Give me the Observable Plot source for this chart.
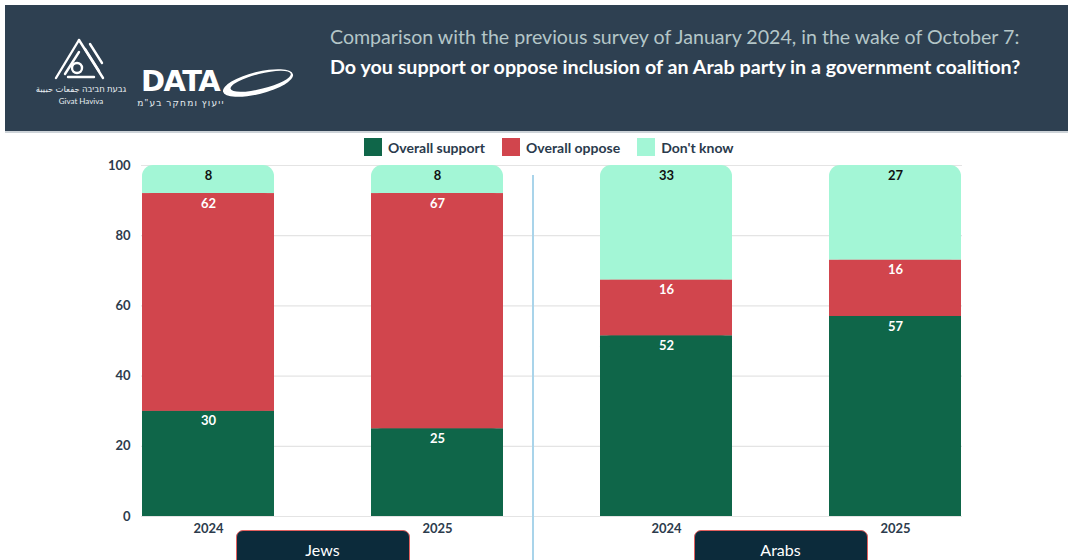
<!DOCTYPE html>
<html><head><meta charset="utf-8">
<script src="https://cdn.jsdelivr.net/npm/d3@7"></script>
<script src="https://cdn.jsdelivr.net/npm/@observablehq/plot@0.6"></script>
<style>
body{margin:0;width:1068px;height:560px;overflow:hidden;background:#fff;font-family:Lato,sans-serif;position:relative}
#header{position:absolute;left:5px;top:5px;width:1063px;height:126px;background:#2e4051;border-bottom:2px solid #cdd3d8}
#t1{position:absolute;left:330px;top:25px;font-size:19.6px;color:#b4c6c8;white-space:nowrap;font-family:Lato,sans-serif}
#t2{position:absolute;left:330px;top:55px;font-size:19.7px;font-weight:bold;color:#fff;white-space:nowrap;font-family:Lato,sans-serif}
#logos{position:absolute;left:0;top:0}
#legend{position:absolute;top:138px;left:364px;display:flex;align-items:center;font-weight:bold;font-size:14px;color:#2a3a4c}
#legend .sw{width:18px;height:18px;margin-right:6px}
#legend .it{display:flex;align-items:center;margin-right:17px}
#chart{position:absolute;left:0;top:0}
.gbox{position:absolute;top:530px;width:172px;height:40px;background:#0c2b3b;border:1.5px solid #e4605e;border-radius:7px;color:#fff;font-size:16px;text-align:center;line-height:38px;font-family:Lato,sans-serif}
#divider{position:absolute;top:175px;bottom:0;width:1.5px;background:#a9d4ea}
</style></head>
<body>
<div id="chart"></div>
<div id="header">
</div>
<svg id="logos" width="320" height="131">
  <g stroke="#fff" fill="none" stroke-width="2.4" stroke-linecap="round">
    <path d="M79,40 L56,78"/>
    <path d="M79,40 L103,78"/>
    <path d="M85,49 L99,71"/>
    <path d="M90,44 L102,63"/>
    <path d="M65,74 L79,52"/>
    <circle cx="77" cy="68" r="5"/>
    <path d="M68,77 L94,77"/>
  </g>
  <text x="81" y="92" text-anchor="middle" fill="#e8eef2" font-size="8.5" font-family="Noto Sans, DejaVu Sans">גבעת חביבה  جفعات حبيبة</text>
  <text x="81" y="104" text-anchor="middle" fill="#e8eef2" font-size="8" font-family="Lato">Givat Haviva</text>
  <text x="141" y="91" fill="#fff" font-size="29" font-weight="900" font-family="DejaVu Sans" letter-spacing="-1.5">DATA</text>
  <text x="181" y="106" text-anchor="middle" fill="#e8eef2" font-size="9" letter-spacing="1.2" font-family="Noto Sans, DejaVu Sans">ייעוץ ומחקר בע"מ</text>
  <g transform="translate(258,83) rotate(-14)">
    <ellipse rx="36" ry="11" fill="#fff"/>
    <ellipse cx="3" cy="-1" rx="31" ry="7.5" fill="#2e4051"/>
  </g>
</svg>
<div id="t1">Comparison with the previous survey of January 2024, in the wake of October 7:</div>
<div id="t2">Do you support or oppose inclusion of an Arab party in a government coalition?</div>
<div id="legend"></div>
<script>
const groups = ["Jews", "Jews", "Arabs", "Arabs"];
const years = ["2024", "2025", "2024", "2025"];
const series = ["Overall support", "Overall oppose", "Don't know"];
const support = [30, 25, 52, 57];
const oppose = [62, 67, 16, 16];
const dontKnow = [8, 8, 33, 27];
const yTicks = [0, 20, 40, 60, 80, 100];
const colors = ["#0f6649", "#d1454d", "#a3f6d6"];
const groupNames = ["Jews", "Arabs"];

const keys = groups.map((g, i) => g + " " + years[i]);
const yearOf = Object.fromEntries(keys.map((k, i) => [k, years[i]]));
const seriesValues = [support, oppose, dontKnow];
const rows = [];
keys.forEach((k, i) => series.forEach((s, j) => rows.push({key: k, series: s, value: seriesValues[j][i]})));

const stackOpts = {x: "key", y: "value", z: "series", order: series, offset: "normalize"};

const chart = Plot.plot({
  width: 1068, height: 560,
  marginTop: 165, marginBottom: 44, marginLeft: 141, marginRight: 106,
  style: {fontFamily: "Lato, sans-serif", background: "transparent"},
  x: {domain: keys, paddingInner: 0.425, paddingOuter: 0, label: null},
  y: {domain: [0, 1], label: null},
  color: {domain: series, range: colors},
  marks: [
    Plot.gridY(yTicks.map(d => d / 100), {stroke: "#e4e4e4", strokeOpacity: 1, strokeWidth: 1.2}),
    Plot.barY(rows, Plot.stackY({...stackOpts, fill: "series", ry1: 11})),
    Plot.barY(rows, Plot.stackY({...stackOpts, fill: "series", fillOpacity: d => d.series === "Don't know" ? 0 : 1})),
    Plot.text(rows, Plot.stackY2({...stackOpts, text: "value", dy: 10, fontSize: 13, fontWeight: "bold",
      fill: d => d.series === "Don't know" ? "#111111" : "#ffffff"})),
    Plot.axisY(yTicks.map(d => d / 100), {tickFormat: d => Math.round(d * 100), tickSize: 0, tickPadding: 11, fontSize: 13, fontWeight: "bold", fill: "#2d3b4c"}),
    Plot.axisX({tickFormat: k => yearOf[k], tickSize: 0, tickPadding: 7, fontSize: 13, fontWeight: "bold", fill: "#2d3b4c"})
  ]
});
document.getElementById("chart").appendChild(chart);

// legend
const leg = document.getElementById("legend");
series.forEach((s, i) => {
  const it = document.createElement("div"); it.className = "it";
  const sw = document.createElement("div"); sw.className = "sw"; sw.style.background = colors[i];
  const lb = document.createElement("span"); lb.textContent = s;
  it.appendChild(sw); it.appendChild(lb); leg.appendChild(it);
});

// group boxes & divider from the x scale
const xs = chart.scale("x");
const bw = xs.bandwidth;
groupNames.forEach(g => {
  const ks = keys.filter((k, i) => groups[i] === g);
  const c = (xs.apply(ks[0]) + xs.apply(ks[ks.length - 1]) + bw) / 2;
  const b = document.createElement("div"); b.className = "gbox"; b.textContent = g;
  b.style.left = (c - 87) + "px";
  document.body.appendChild(b);
});
const endJ = xs.apply(keys[1]) + bw, startA = xs.apply(keys[2]);
const dv = document.createElement("div"); dv.id = "divider";
dv.style.left = (endJ + (startA - endJ) * 0.3) + "px";
document.body.appendChild(dv);
</script>
</body></html>
